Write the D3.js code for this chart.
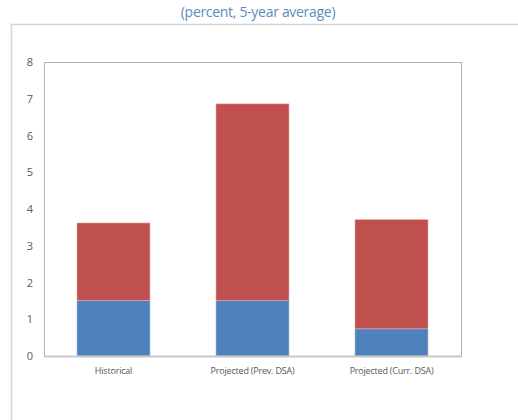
<!DOCTYPE html>
<html>
<head>
<meta charset="utf-8">
<script src="https://cdn.jsdelivr.net/npm/d3@7"></script>
<style>
  body { margin: 0; background: #fff; }
  svg text { font-family: "Open Sans", "DejaVu Sans", sans-serif; }
</style>
</head>
<body>
<div id="chart"></div>
<script>
var categories = ["Historical", "Projected (Prev. DSA)", "Projected (Curr. DSA)"];
var blueValues = [1.51, 1.51, 0.74];
var redValues = [2.11, 5.35, 2.97];
var yTicks = [0, 1, 2, 3, 4, 5, 6, 7, 8];

var W = 518, H = 420;
var margin = { top: 62, right: 57, bottom: 64, left: 44 },
    width = W - margin.left - margin.right,
    height = H - margin.top - margin.bottom;

var svg = d3.select("#chart").append("svg")
    .attr("width", W)
    .attr("height", H);

// outer chart frame, runs off the right and bottom
svg.append("path")
    .attr("d", "M11.5," + H + "V24.5H" + W)
    .attr("fill", "none")
    .attr("stroke", "#d4d4d4")
    .attr("stroke-width", 1.5);

svg.append("text")
    .attr("x", 258)
    .attr("y", 17)
    .attr("text-anchor", "middle")
    .style("font-size", "14px")
    .style("letter-spacing", "-0.3px")
    .style("fill", "#5b8bc0")
    .text("(percent, 5-year average)");

var g = svg.append("g")
    .attr("transform", "translate(" + margin.left + "," + margin.top + ")");

var x = d3.scaleBand()
    .domain(categories)
    .range([0, width])
    .paddingInner(0.475)
    .paddingOuter(0.2375);

var y = d3.scaleLinear()
    .domain([0, 8])
    .range([height, 0]);

// plot border
g.append("rect")
    .attr("x", 0.5)
    .attr("y", 0.5)
    .attr("width", width)
    .attr("height", height)
    .attr("fill", "none")
    .attr("stroke", "#b3b3b3");

var stacked = categories.map(function(c, i) {
  return { cat: c, blue: blueValues[i], red: redValues[i] };
});

g.selectAll(".blue")
    .data(stacked)
    .enter().append("rect")
    .attr("class", "blue")
    .attr("x", function(d) { return x(d.cat); })
    .attr("y", function(d) { return y(d.blue); })
    .attr("width", x.bandwidth())
    .attr("height", function(d) { return y(0) - y(d.blue); })
    .attr("fill", "#4f81bd")
    .attr("stroke", "#9fbbe0")
    .attr("stroke-width", 0.6);

g.selectAll(".red")
    .data(stacked)
    .enter().append("rect")
    .attr("class", "red")
    .attr("x", function(d) { return x(d.cat); })
    .attr("y", function(d) { return y(d.blue + d.red); })
    .attr("width", x.bandwidth())
    .attr("height", function(d) { return y(d.blue) - y(d.blue + d.red); })
    .attr("fill", "#c0504d")
    .attr("stroke", "#e6a8a6")
    .attr("stroke-width", 0.6);

// baseline
g.append("line")
    .attr("x1", 0).attr("x2", width + 0.5)
    .attr("y1", height + 0.5).attr("y2", height + 0.5)
    .attr("stroke", "#c8c8c8")
    .attr("stroke-width", 2);

var yAxis = d3.axisLeft(y).tickValues(yTicks).tickSize(0).tickPadding(11);
g.append("g")
    .call(yAxis)
    .call(function(s) { s.select(".domain").remove(); })
    .selectAll("text")
    .style("font-size", "11px")
    .style("fill", "#595959");

var xAxis = d3.axisBottom(x).tickSize(0).tickPadding(12);
g.append("g")
    .attr("transform", "translate(0," + height + ")")
    .call(xAxis)
    .call(function(s) { s.select(".domain").remove(); })
    .selectAll("text")
    .style("font-size", "9px")
    .style("letter-spacing", "-0.2px")
    .style("fill", "#595959");
</script>
</body>
</html>
